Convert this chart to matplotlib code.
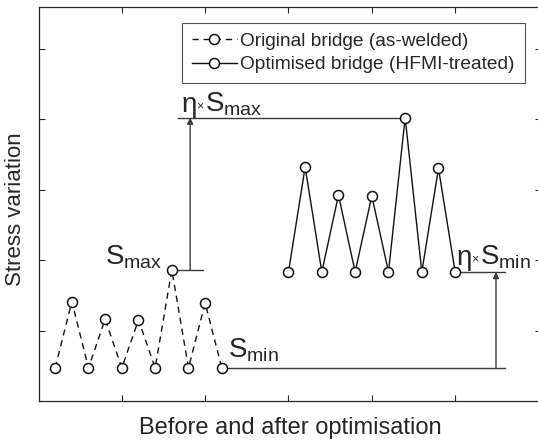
import matplotlib
matplotlib.use("Agg")
import matplotlib.pyplot as plt
import numpy as np

plt.rcParams['font.family'] = ['Liberation Sans', 'DejaVu Sans']
plt.rcParams['mathtext.fontset'] = 'custom'
plt.rcParams['mathtext.rm'] = 'Liberation Sans'
plt.rcParams['mathtext.it'] = 'Liberation Sans:italic'
plt.rcParams['mathtext.bf'] = 'Liberation Sans:bold'

# ---- data ----
orig_x = [0.2, 0.4, 0.6, 0.8, 1.0, 1.2, 1.4, 1.6, 1.8, 2.0, 2.2]
orig_y = [0.47, 1.41, 0.47, 1.16, 0.47, 1.15, 0.47, 1.86, 0.47, 1.39, 0.47]
opt_x = [3.0, 3.2, 3.4, 3.6, 3.8, 4.0, 4.2, 4.4, 4.6, 4.8, 5.0]
opt_y = [1.83, 3.32, 1.83, 2.92, 1.83, 2.91, 1.83, 4.02, 1.83, 3.30, 1.83]
labels = ['Original bridge (as-welded)', 'Optimised bridge (HFMI-treated)']
xlabel = 'Before and after optimisation'
ylabel = 'Stress variation'
ticks = [1, 2, 3, 4, 5]

W, H = 538, 441
fig = plt.figure(figsize=(W / 100, H / 100), dpi=100)
ax = fig.add_axes([38.5 / W, 40 / H, (541 - 38.5) / W, (401 - 7) / H])
ax.set_xlim(0, (541 - 38.5) / 83.33)
ax.set_ylim(0, (401 - 7) / 70.5)

dark = '#262626'
line_c = '#111111'
ann_c = '#3a3a3a'

ax.plot(orig_x, orig_y, color=line_c, lw=1.0, dashes=(4.5, 3.5), marker='o',
        ms=7.2, mfc='white', mec=line_c, mew=1.1, label=labels[0])
ax.plot(opt_x, opt_y, color=line_c, lw=1.0, marker='o',
        ms=7.2, mfc='white', mec=line_c, mew=1.1, label=labels[1])

smax = max(orig_y)
smin = min(orig_y)
esmax = max(opt_y)
esmin = min(opt_y)
x_smax = orig_x[int(np.argmax(orig_y))]
x_esmax = opt_x[int(np.argmax(opt_y))]

# Smax annotation
ax.plot([x_smax, 1.97], [smax, smax], color=ann_c, lw=1.0, zorder=1)
ax.plot([1.67, x_esmax], [esmax, esmax], color=ann_c, lw=1.0, zorder=1)
ax.annotate('', xy=(1.82, esmax), xytext=(1.82, smax),
            arrowprops=dict(arrowstyle='-|>', mutation_scale=9, lw=1.0,
                            color=ann_c, shrinkA=0, shrinkB=0))
# Smin annotation
ax.plot([orig_x[-1], 5.6], [smin, smin], color=ann_c, lw=1.0, zorder=1)
ax.plot([opt_x[-1], 5.6], [esmin, esmin], color=ann_c, lw=1.0, zorder=1)
ax.annotate('', xy=(5.49, esmin), xytext=(5.49, smin),
            arrowprops=dict(arrowstyle='-|>', mutation_scale=9, lw=1.0,
                            color=ann_c, shrinkA=0, shrinkB=0))

fs = 20
ax.text(0.80, 1.93, r'$\mathregular{S_{max}}$', fontsize=fs, color=dark,
        ha='left', va='baseline')
ax.text(2.27, 0.61, r'$\mathregular{S_{min}}$', fontsize=fs, color=dark,
        ha='left', va='baseline')


def eta_label(x, y, sub):
    ax.text(x, y, 'η', fontsize=fs, color=dark, ha='left', va='baseline')
    ax.annotate('×', xy=(x, y), xycoords='data', xytext=(10.3, 1.8),
                textcoords='offset points', fontsize=9, color=dark,
                ha='left', va='baseline')
    ax.annotate(r'$\mathregular{S_{%s}}$' % sub, xy=(x, y), xycoords='data',
                xytext=(16.6, 0), textcoords='offset points', fontsize=fs,
                color=dark, ha='left', va='baseline')


eta_label(1.72, 4.10, 'max')
eta_label(5.02, 1.93, 'min')

ax.set_xticks(ticks)
ax.set_yticks(ticks)
ax.set_xticklabels([])
ax.set_yticklabels([])
ax.tick_params(direction='in', top=True, right=True, length=4, width=0.8,
               color=dark)
for s in ax.spines.values():
    s.set_color(dark)
    s.set_linewidth(0.9)

fig.text(290 / W, 1 - 428 / H, xlabel, fontsize=17, color=dark,
         ha='center', va='center')
fig.text(16 / W, 1 - 209 / H, ylabel, fontsize=16, color=dark,
         ha='center', va='center', rotation=90)

leg = ax.legend(loc='upper left', bbox_to_anchor=(182 / W, 1 - 23 / H),
                bbox_transform=fig.transFigure, borderaxespad=0,
                fontsize=13.8, frameon=True, fancybox=False,
                handlelength=2.35, handletextpad=0.2, labelspacing=0.31,
                borderpad=0.5)
leg.get_frame().set_edgecolor(dark)
leg.get_frame().set_linewidth(0.8)
for t in leg.get_texts():
    t.set_color(dark)

fig.savefig('out.png', dpi=100)
